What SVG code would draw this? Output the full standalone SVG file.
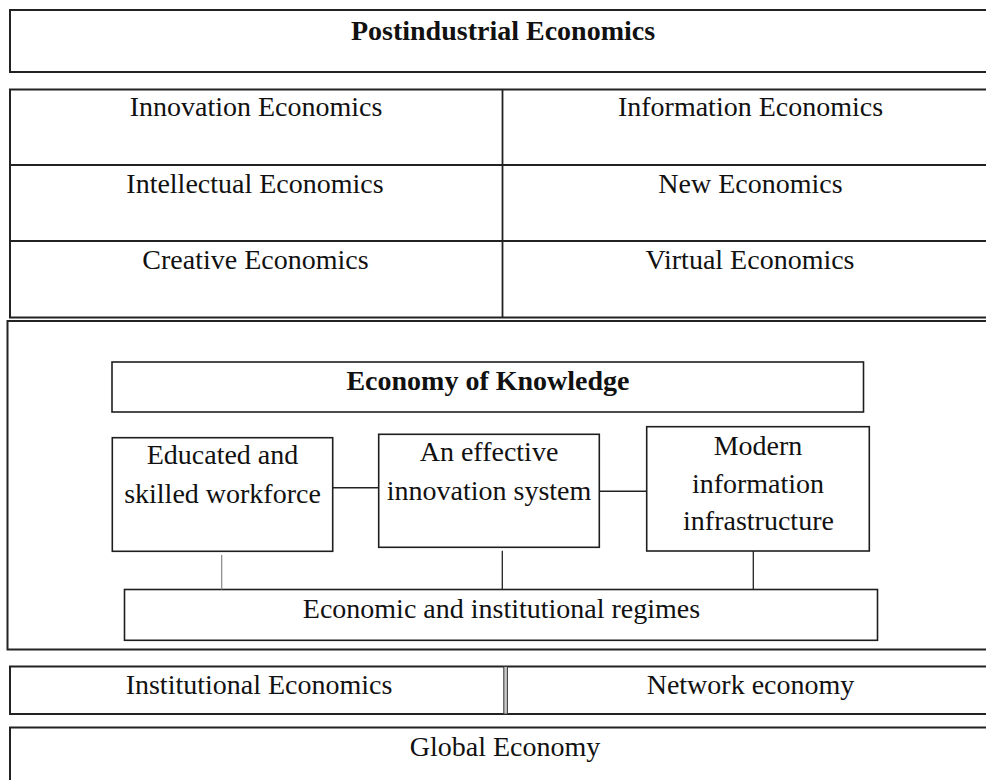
<svg xmlns="http://www.w3.org/2000/svg" width="986" height="780" viewBox="0 0 986 780">
<style>
  .frame { fill: #ffffff; stroke: #222222; stroke-width: 2; }
  .box { fill: #ffffff; stroke: #1e1e1e; stroke-width: 1.6; }
  .line { stroke: #222222; stroke-width: 1.8; fill: none; }
  .conn { stroke: #222222; stroke-width: 1.6; fill: none; }
  .conn-thin { stroke: #222222; stroke-width: 1.3; fill: none; }
  .conn-gray { stroke: #888888; stroke-width: 1.2; fill: none; }
  text { font-family: "Liberation Serif", "Times New Roman", serif; font-size: 28px; fill: #111111; text-anchor: middle; }
  .b { font-weight: bold; }
</style>
<rect x="0" y="0" width="986" height="780" fill="#ffffff"/>

<g id="postindustrial">
  <rect class="frame" x="10" y="10" width="995" height="62"/>
  <text class="b" x="503" y="39.5">Postindustrial Economics</text>
</g>

<g id="economics-table">
  <rect class="frame" x="10" y="89.5" width="995" height="228"/>
  <line class="line" x1="10" y1="165" x2="1005" y2="165"/>
  <line class="line" x1="10" y1="241" x2="1005" y2="241"/>
  <line class="line" x1="502.5" y1="89.5" x2="502.5" y2="317.5"/>
</g>
<g id="innovation-economics"><text x="256" y="116">Innovation Economics</text></g>
<g id="information-economics"><text x="750.5" y="116">Information Economics</text></g>
<g id="intellectual-economics"><text x="255" y="192.5">Intellectual Economics</text></g>
<g id="new-economics"><text x="750.5" y="192.5">New Economics</text></g>
<g id="creative-economics"><text x="255.5" y="268.5">Creative Economics</text></g>
<g id="virtual-economics"><text x="750" y="268.5">Virtual Economics</text></g>

<g id="knowledge-frame">
  <rect class="frame" x="7.5" y="321" width="997" height="328.5"/>
</g>

<g id="economy-of-knowledge">
  <rect class="box" x="112" y="362" width="751.5" height="50"/>
  <text class="b" x="488" y="390">Economy of Knowledge</text>
</g>

<g id="educated-workforce">
  <rect class="box" x="112.3" y="437.7" width="220.4" height="113.6"/>
  <text x="222.5" y="464">Educated and</text>
  <text x="222.5" y="503">skilled workforce</text>
</g>

<g id="innovation-system">
  <rect class="box" x="378.7" y="434.3" width="220.6" height="113"/>
  <text x="489" y="461">An effective</text>
  <text x="489" y="500">innovation system</text>
</g>

<g id="information-infrastructure">
  <rect class="box" x="646.7" y="426.7" width="222.6" height="124.3"/>
  <text x="758" y="455">Modern</text>
  <text x="758" y="492.5">information</text>
  <text x="758.5" y="529.5">infrastructure</text>
</g>

<g id="institutional-regimes">
  <rect class="box" x="124.5" y="589.5" width="753" height="50.8"/>
  <text x="501.5" y="618">Economic and institutional regimes</text>
</g>

<g id="connectors">
  <line class="conn" x1="332.7" y1="487.8" x2="378.7" y2="487.8"/>
  <line class="conn" x1="599.3" y1="491.3" x2="646.7" y2="491.3"/>
  <line class="conn-gray" x1="221.7" y1="555" x2="221.7" y2="589.5"/>
  <line class="conn-thin" x1="502.3" y1="550.7" x2="502.3" y2="589.5"/>
  <line class="conn-thin" x1="753.3" y1="551" x2="753.3" y2="589.5"/>
</g>

<g id="institutional-network-row">
  <rect class="frame" x="10" y="666.5" width="995" height="47.5"/>
  <rect x="503.8" y="666.5" width="3.6" height="47.5" fill="#c8c8c8" stroke="#333333" stroke-width="1"/>
</g>
<g id="institutional-economics"><text x="259" y="693.5">Institutional Economics</text></g>
<g id="network-economy"><text x="750.5" y="693.5">Network economy</text></g>

<g id="global-economy">
  <rect class="frame" x="10" y="727.5" width="995" height="70"/>
  <text x="505" y="755.5">Global Economy</text>
</g>
</svg>
